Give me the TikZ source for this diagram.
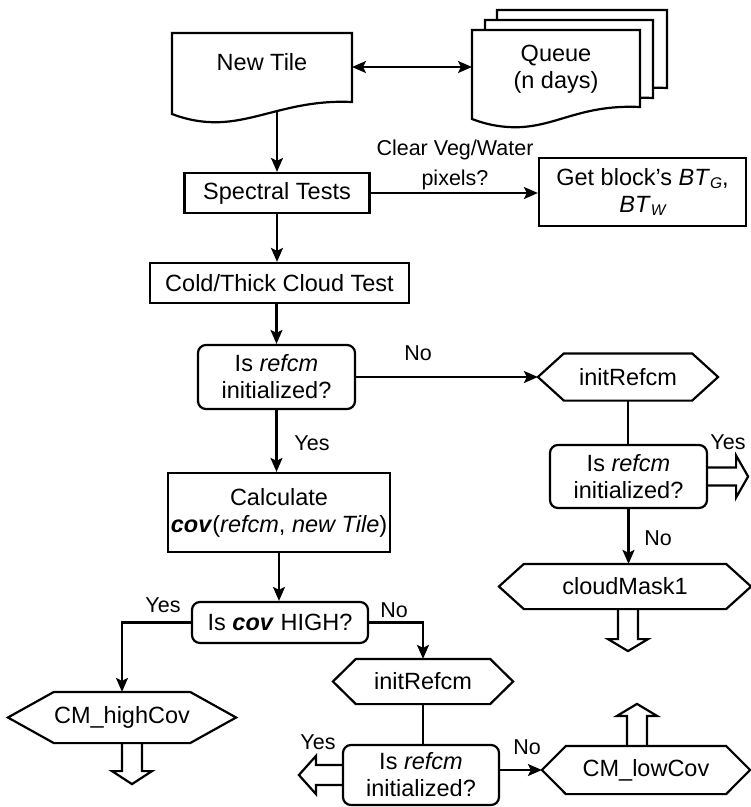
\documentclass[tikz,border=0pt]{standalone}
\usepackage{fontspec}
\setmainfont{Liberation Sans}
\usetikzlibrary{arrows.meta}
\newcommand\myhex[2]{\draw (#1.west) -- ([xshift=#2]#1.north west) -- ([xshift=-#2]#1.north east) -- (#1.east) -- ([xshift=-#2]#1.south east) -- ([xshift=#2]#1.south west) -- cycle;}
\newcommand\mysub[1]{\raisebox{-3pt}{\fontsize{15.5}{15.5}\selectfont\itshape #1}}
\begin{document}
\begin{tikzpicture}[x=1pt,y=-1pt,line width=2.2pt,
  every node/.style={font=\fontsize{23.5}{27}\selectfont, inner sep=0pt, align=center},
  rbox/.style={draw, rectangle},
  dec/.style={draw, rectangle, rounded corners=8pt},
  hexn/.style={draw=none, rectangle},
  lbl/.style={font=\fontsize{21.5}{30}\selectfont},
  arr/.style={-{Stealth[length=14pt,width=12pt,inset=3pt]}},
  darr/.style={{Stealth[length=14pt,width=12pt,inset=3pt]}-{Stealth[length=14pt,width=12pt,inset=3pt]}},
  hollow/.style={line width=2.2pt, line join=miter}
]
\useasboundingbox (0,0) rectangle (751,807);

% ---- document shapes ----
\filldraw[fill=white] (172,33) -- (352,33) -- (352,102) .. controls (289,99) and (253,125) .. (208,122) .. controls (192,121) and (180,117) .. (172,114) -- cycle;
\filldraw[fill=white] (497,10) -- (667,10) -- (667,88) .. controls (604,85) and (578,111) .. (533,108) .. controls (517,107) and (505,103) .. (497,100) -- cycle;
\filldraw[fill=white] (485,20) -- (653,20) -- (653,98) .. controls (590,95) and (566,121) .. (521,118) .. controls (505,117) and (493,113) .. (485,110) -- cycle;
\filldraw[fill=white] (472,30) -- (640,30) -- (640,107) .. controls (577,104) and (553,130) .. (508,127) .. controls (492,126) and (480,122) .. (472,119) -- cycle;

\node (newtile) at (262,62) {New Tile};
\node (queue) at (556,69) {Queue\\(n days)};
\coordinate (ntE) at (352,67);
\coordinate (qW) at (472,67);
\coordinate (ntS) at (277,111);

% ---- main column ----
\node[rbox, minimum width=185pt, minimum height=40pt] (spectral) at (277,193) {Spectral Tests};
\node[rbox, minimum width=207pt, minimum height=68pt] (getblock) at (642.5,192) {Get block’s \textit{BT}\mysub{G},\\\textit{BT}\mysub{W}};
\node[lbl] (clearlbl) at (455,165) {Clear Veg/Water\\pixels?};
\node[rbox, minimum width=259pt, minimum height=40pt] (cold) at (279.5,283) {Cold/Thick Cloud Test};
\node[dec, minimum width=157pt, minimum height=64pt] (dec1) at (276.5,377) {Is \textit{refcm}\\initialized?};
\node[rbox, minimum width=222pt, minimum height=79pt] (calc) at (279,512.5) {Calculate\\\textbf{\textit{cov}}(\textit{refcm}, \textit{new Tile})};
\node[dec, minimum width=176pt, minimum height=41pt] (iscov) at (280,622.5) {Is \textbf{\textit{cov}} HIGH?};

% ---- right column ----
\node[hexn, minimum width=178pt, minimum height=45pt] (init1) at (628,377) {initRefcm};
\myhex{init1}{26pt}
\node[dec, minimum width=157pt, minimum height=63pt] (dec2) at (628.5,476.5) {Is \textit{refcm}\\initialized?};
\node[hexn, minimum width=250pt, minimum height=43pt] (cm1) at (625,586.5) {cloudMask1};
\myhex{cm1}{25pt}

% ---- bottom ----
\node[hexn, minimum width=226pt, minimum height=49pt] (cmhigh) at (122,717.5) {CM\_highCov};
\myhex{cmhigh}{46pt}
\node[hexn, minimum width=178pt, minimum height=43pt] (init2) at (423,681.5) {initRefcm};
\myhex{init2}{23pt}
\node[dec, minimum width=156pt, minimum height=60pt] (dec3) at (421,775) {Is \textit{refcm}\\initialized?};
\node[hexn, minimum width=206pt, minimum height=46pt] (cmlow) at (646,770) {CM\_lowCov};
\myhex{cmlow}{24pt}

% ---- labels ----
\node[lbl] (l1) at (418,353) {No};
\node[lbl] (l2) at (312,443) {Yes};
\node[lbl] (l3) at (728,442) {Yes};
\node[lbl] (l4) at (658,538) {No};
\node[lbl] (l5) at (163,605) {Yes};
\node[lbl] (l6) at (394,610) {No};
\node[lbl] (l7) at (318,742) {Yes};
\node[lbl] (l8) at (527,747) {No};

% ---- connectors ----
\draw[darr] (ntE) -- (qW);
\draw[arr] (ntS) -- (ntS |- spectral.north);
\draw[arr] (spectral.east) -- (spectral.east -| getblock.west);
\draw[arr] (spectral.south) -- (spectral.south |- cold.north);
\draw[arr] (dec1.north |- cold.south) -- (dec1.north);
\draw[arr] (dec1.south) -- (dec1.south |- calc.north);
\draw[arr] (calc.south) -- (calc.south |- iscov.north);
\draw[arr] (dec1.east) -- (dec1.east -| init1.west);
\draw (init1.south) -- (init1.south |- dec2.north);
\draw[arr] (dec2.south) -- (dec2.south |- cm1.north);
\draw[arr] (iscov.west) -- (iscov.west -| cmhigh.north) -- (cmhigh.north);
\draw[arr] (iscov.east) -- (iscov.east -| init2.north) -- (init2.north);
\draw (init2.south) -- (init2.south |- dec3.north);
\draw[arr] ([yshift=5pt]dec3.east) -- (cmlow.west);

% ---- hollow arrows ----
\draw[hollow, shift={([xshift=3pt]cm1.south)}] (-10,0) -- (-10,30) -- (-20,30) -- (0,42) -- (20,30) -- (10,30) -- (10,0);
\draw[hollow, shift={([xshift=10pt]cmhigh.south)}] (-10,0) -- (-10,28) -- (-20,28) -- (0,41) -- (20,28) -- (10,28) -- (10,0);
\draw[hollow, shift={([xshift=-9pt]cmlow.north)}] (-10,0) -- (-10,-30) -- (-20,-30) -- (0,-42) -- (20,-30) -- (10,-30) -- (10,0);
\draw[hollow, shift={(dec2.east)}] (0,-9) -- (28,-9) -- (28,-21) -- (40,0) -- (28,21) -- (28,9) -- (0,9);
\draw[hollow, shift={(dec3.west)}] (0,-10) -- (-26,-10) -- (-26,-19) -- (-43,0) -- (-26,19) -- (-26,10) -- (0,10);
\end{tikzpicture}
\end{document}
